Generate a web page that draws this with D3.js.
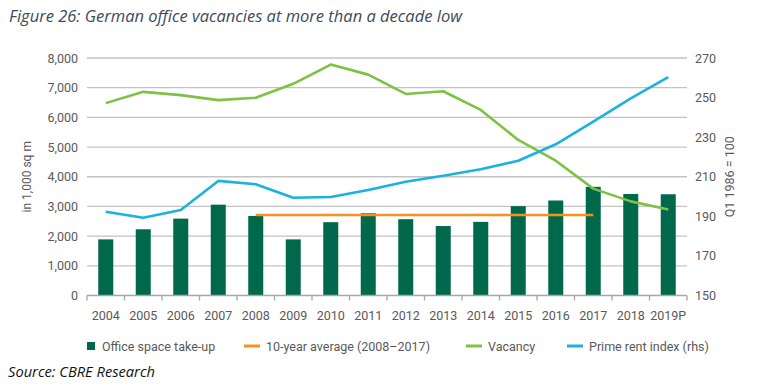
<!DOCTYPE html>
<html>
<head>
<meta charset="utf-8">
<script src="https://cdn.jsdelivr.net/npm/d3@7"></script>
<style>
  body { margin: 0; background: #fff; }
  svg { display: block; }
</style>
</head>
<body>
<div id="wrapper"></div>
<script>
// data
const years = ["2004", "2005", "2006", "2007", "2008", "2009", "2010", "2011",
  "2012", "2013", "2014", "2015", "2016", "2017", "2018", "2019P"]
const takeUp = [1890, 2230, 2590, 3060, 2680, 1890, 2470, 2770,
  2570, 2340, 2480, 3010, 3200, 3660, 3420, 3410]
const vacancy = [6480, 6860, 6750, 6580, 6660, 7130, 7780, 7440,
  6790, 6880, 6250, 5240, 4540, 3600, 3170, 2900]
const primeRent = [192.3, 189.3, 193.2, 207.9, 206.2, 199.4, 199.8, 203.3,
  207.5, 210.5, 213.8, 218.1, 226.4, 237.8, 249.6, 260.3]
const avgValue = 2710
const avgYears = ["2008", "2017"]
const leftTicks = [0, 1000, 2000, 3000, 4000, 5000, 6000, 7000, 8000]
const rightTicks = [150, 170, 190, 210, 230, 250, 270]
const legendLabels = ["Office space take-up", "10-year average (2008\u20132017)", "Vacancy", "Prime rent index (rhs)"]

const colors = {
  bar: "#00694B",
  avg: "#F7901E",
  vacancy: "#7DC242",
  rent: "#1BB1E1",
  grid: "#C3C3C3",
  text: "#595959",
}

const dimensions = {
  width: 779,
  height: 389,
  left: 87,
  right: 687,
  top: 58,
  bottom: 295.5,
}

const axisFont = "Roboto, 'DejaVu Sans', sans-serif"

const wrapper = d3.select("#wrapper")
  .append("svg")
    .attr("width", dimensions.width)
    .attr("height", dimensions.height)

// scales
const xScale = d3.scaleBand()
    .domain(years)
    .range([dimensions.left, dimensions.right])
    .paddingInner(0.6)
    .paddingOuter(0.3)

const yLeft = d3.scaleLinear()
    .domain([0, 8000])
    .range([dimensions.bottom, dimensions.top])

const yRight = d3.scaleLinear()
    .domain([150, 270])
    .range([dimensions.bottom, dimensions.top])

const xCenter = d => xScale(d) + xScale.bandwidth() / 2

// title
wrapper.append("text")
    .attr("x", 9)
    .attr("y", 22)
    .attr("fill", "#3E4A5C")
    .attr("textLength", 453)
    .attr("lengthAdjust", "spacingAndGlyphs")
    .style("font-family", "'Open Sans', sans-serif")
    .style("font-style", "italic")
    .style("font-size", "15.5px")
    .text("Figure 26: German office vacancies at more than a decade low")

// gridlines
wrapper.append("g")
  .selectAll("line")
  .data(leftTicks.filter(d => d > 0))
  .join("line")
    .attr("x1", dimensions.left)
    .attr("x2", dimensions.right)
    .attr("y1", d => yLeft(d))
    .attr("y2", d => yLeft(d))
    .attr("stroke", colors.grid)
    .attr("stroke-width", 1.3)

// left axis labels
const leftAxis = wrapper.append("g")
    .attr("transform", `translate(${dimensions.left}, 0)`)
    .call(d3.axisLeft(yLeft).tickValues(leftTicks).tickFormat(d3.format(",")).tickSize(0).tickPadding(9))
leftAxis.select(".domain").remove()
leftAxis.selectAll("text")
    .attr("fill", colors.text)
    .style("font-family", axisFont)
    .style("font-size", "12.5px")

// right axis labels
const rightAxis = wrapper.append("g")
    .attr("transform", `translate(${dimensions.right}, 0)`)
    .call(d3.axisRight(yRight).tickValues(rightTicks).tickSize(0).tickPadding(8))
rightAxis.select(".domain").remove()
rightAxis.selectAll("text")
    .attr("fill", colors.text)
    .style("font-family", axisFont)
    .style("font-size", "12.5px")

// axis titles
wrapper.append("text")
    .attr("transform", `translate(31, ${(dimensions.top + dimensions.bottom) / 2}) rotate(-90)`)
    .attr("text-anchor", "middle")
    .attr("fill", colors.text)
    .style("font-family", axisFont)
    .style("font-size", "12px")
    .text("in 1,000 sq m")

wrapper.append("text")
    .attr("transform", `translate(734, ${(dimensions.top + dimensions.bottom) / 2}) rotate(-90)`)
    .attr("text-anchor", "middle")
    .attr("fill", colors.text)
    .style("font-family", axisFont)
    .style("font-size", "12.5px")
    .text("Q1 1986 = 100")

// bars
wrapper.append("g")
  .selectAll("rect")
  .data(years)
  .join("rect")
    .attr("x", d => xScale(d))
    .attr("y", (d, i) => yLeft(takeUp[i]))
    .attr("width", xScale.bandwidth())
    .attr("height", (d, i) => yLeft(0) - yLeft(takeUp[i]))
    .attr("fill", colors.bar)

// x axis line + ticks between categories
const xAxis = wrapper.append("g")
    .attr("transform", `translate(0, ${dimensions.bottom})`)
xAxis.append("line")
    .attr("x1", dimensions.left)
    .attr("x2", dimensions.right)
    .attr("stroke", "#A6A6A6")
    .attr("stroke-width", 1.3)
xAxis.selectAll(".tick")
  .data(years.concat(["end"]))
  .join("line")
    .attr("x1", (d, i) => i < years.length ? xScale(d) - xScale.step() * xScale.paddingOuter() : dimensions.right)
    .attr("x2", (d, i) => i < years.length ? xScale(d) - xScale.step() * xScale.paddingOuter() : dimensions.right)
    .attr("y1", 0)
    .attr("y2", 5)
    .attr("stroke", "#A6A6A6")
    .attr("stroke-width", 1.3)
xAxis.selectAll("text")
  .data(years)
  .join("text")
    .attr("x", d => xCenter(d))
    .attr("y", 24.5)
    .attr("text-anchor", "middle")
    .attr("fill", colors.text)
    .style("font-family", axisFont)
    .style("font-size", "12.5px")
    .text(d => d)

// 10-year average
wrapper.append("line")
    .attr("x1", xCenter(avgYears[0]))
    .attr("x2", xCenter(avgYears[1]))
    .attr("y1", yLeft(avgValue))
    .attr("y2", yLeft(avgValue))
    .attr("stroke", colors.avg)
    .attr("stroke-width", 2.5)

// vacancy line
const vacancyLine = d3.line()
    .x((d, i) => xCenter(years[i]))
    .y(d => yLeft(d))
wrapper.append("path")
    .datum(vacancy)
    .attr("d", vacancyLine)
    .attr("fill", "none")
    .attr("stroke", colors.vacancy)
    .attr("stroke-width", 2.6)
    .attr("stroke-linejoin", "round")

// prime rent line
const rentLine = d3.line()
    .x((d, i) => xCenter(years[i]))
    .y(d => yRight(d))
wrapper.append("path")
    .datum(primeRent)
    .attr("d", rentLine)
    .attr("fill", "none")
    .attr("stroke", colors.rent)
    .attr("stroke-width", 2.6)
    .attr("stroke-linejoin", "round")

// legend
const legendX = [87, 244, 466, 567]
const legendColors = [colors.bar, colors.avg, colors.vacancy, colors.rent]
const legend = wrapper.append("g")
    .attr("transform", "translate(0, 346)")
const legendItems = legend.selectAll("g")
  .data(legendLabels)
  .join("g")
    .attr("transform", (d, i) => `translate(${legendX[i]}, 0)`)
legendItems.each(function (d, i) {
  const item = d3.select(this)
  if (i === 0) {
    item.append("rect")
        .attr("x", 0)
        .attr("y", -4)
        .attr("width", 8)
        .attr("height", 8)
        .attr("fill", legendColors[i])
  } else {
    item.append("line")
        .attr("x1", 0)
        .attr("x2", 16)
        .attr("stroke", legendColors[i])
        .attr("stroke-width", 3)
  }
  item.append("text")
      .attr("x", i === 0 ? 15 : 22)
      .attr("y", 4.5)
      .attr("fill", colors.text)
      .style("font-family", axisFont)
      .style("font-size", "12.5px")
      .text(d)
})

// source
wrapper.append("text")
    .attr("x", 8)
    .attr("y", 377)
    .attr("fill", "#111")
    .attr("textLength", 147)
    .attr("lengthAdjust", "spacingAndGlyphs")
    .style("font-family", "'Open Sans', sans-serif")
    .style("font-style", "italic")
    .style("font-size", "14px")
    .text("Source: CBRE Research")
</script>
</body>
</html>
